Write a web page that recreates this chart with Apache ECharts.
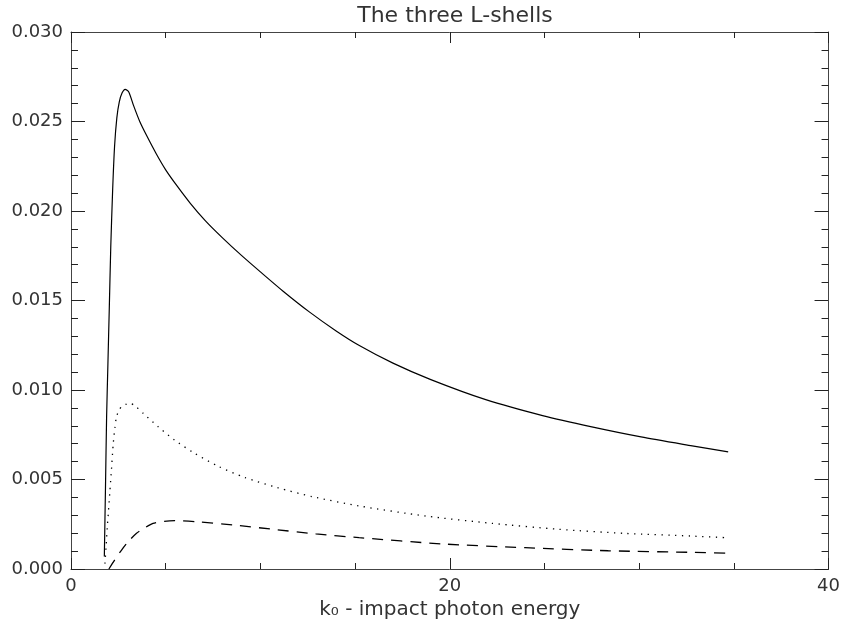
<!DOCTYPE html>
<html>
<head>
<meta charset="utf-8">
<script src="https://cdn.jsdelivr.net/npm/echarts@6/dist/echarts.min.js"></script>
<style>html,body{margin:0;padding:0;background:#fff}#c{width:843px;height:627px}</style>
</head>
<body>
<div id="c"></div>
<script>
const titleText = 'The three L-shells';
const xAxisName = 'k₀ - impact photon energy';

const solidX = [1.76, 1.82, 1.88, 1.95, 2.02, 2.1, 2.2, 2.3, 2.42, 2.55, 2.7, 2.86, 3.05, 3.3, 3.63, 4.0, 4.5, 5.0, 5.6, 6.3, 7.1, 8.0, 9.0, 10.0, 11.2, 12.6, 14.0, 15.2, 17.0, 19.0, 21.9, 24.9, 27.5, 30.1, 32.8, 34.7];
const solidY = [0.0007, 0.0045, 0.0085, 0.0115, 0.0145, 0.0180, 0.0212, 0.0236, 0.0252, 0.0261, 0.0266, 0.0268, 0.02665, 0.0259, 0.0250, 0.0242, 0.0232, 0.0223, 0.0214, 0.02043, 0.01945, 0.0185, 0.01752, 0.0166, 0.01552, 0.01435, 0.0133, 0.0125, 0.0115, 0.01058, 0.00946, 0.00857, 0.00794, 0.00738, 0.00688, 0.00654];

const dottedX = [1.79, 1.85, 1.92, 1.97, 2.05, 2.14, 2.23, 2.32, 2.4, 2.55, 2.7, 2.9, 3.1, 3.4, 3.81, 4.6, 5.47, 6.44, 7.75, 9.16, 10.91, 12.75, 15.21, 18.72, 22.23, 25.74, 29.25, 32.75, 34.6];
const dottedY = [0.0003, 0.0012, 0.0024, 0.0031, 0.0043, 0.0056, 0.0070, 0.0079, 0.0085, 0.0089, 0.0091, 0.0092, 0.00926, 0.0091, 0.0087, 0.00795, 0.0072, 0.00652, 0.00575, 0.00512, 0.00454, 0.00404, 0.00352, 0.00296, 0.00255, 0.00222, 0.00199, 0.00184, 0.00175];

const dashedX = [2.0, 2.3, 2.67, 3.0, 3.46, 3.9, 4.33, 4.9, 5.47, 6.61, 8.54, 10.65, 12.93, 15.21, 19.6, 23.98, 28.37, 32.75, 34.68];
const dashedY = [0.0, 0.0005, 0.00106, 0.0015, 0.002, 0.0023, 0.00255, 0.00266, 0.0027, 0.00264, 0.00246, 0.00222, 0.00196, 0.00175, 0.0014, 0.00119, 0.00102, 0.00093, 0.00088];

const xTicks = [0, 20, 40];
const yTicks = ['0.000', '0.005', '0.010', '0.015', '0.020', '0.025', '0.030'];

const zip = (xs, ys) => xs.map((x, i) => [x, ys[i]]);
const FONT = 'DejaVu Sans';
const TXT = '#333';
const axisLineStyle = { color: '#444', width: 1 };

function xAxisCfg(pos, showLabel) {
  return {
    type: 'value', position: pos, min: xTicks[0], max: xTicks[xTicks.length - 1], interval: xTicks[1] - xTicks[0],
    axisLine: { show: true, onZero: false, lineStyle: axisLineStyle },
    axisTick: { show: true, inside: true, length: 11, lineStyle: { color: '#222' } },
    minorTick: { show: true, splitNumber: 4, length: 6, lineStyle: { color: '#222' } },
    splitLine: { show: false },
    axisLabel: { show: showLabel, color: TXT, fontFamily: FONT, fontSize: 18, margin: 8 },
    name: showLabel ? xAxisName : '', nameLocation: 'middle', nameGap: 29,
    nameTextStyle: { color: TXT, fontFamily: FONT, fontSize: 20 }
  };
}
function yAxisCfg(pos, showLabel) {
  return {
    type: 'value', position: pos, min: 0, max: 0.03, interval: 0.005,
    axisLine: { show: true, onZero: false, lineStyle: axisLineStyle },
    axisTick: { show: true, inside: true, length: 14, lineStyle: { color: '#222' } },
    minorTick: { show: true, splitNumber: 5, length: 7, lineStyle: { color: '#222' } },
    splitLine: { show: false },
    axisLabel: { show: showLabel, color: TXT, fontFamily: FONT, fontSize: 18, margin: 8,
      formatter: v => yTicks[Math.round(v / 0.005)] }
  };
}

const chart = echarts.init(document.getElementById('c'), null, { renderer: 'canvas' });
chart.setOption({
  animation: false,
  backgroundColor: '#fff',
  title: { text: titleText, left: 450, top: 0, textAlign: 'center',
    textStyle: { color: TXT, fontFamily: FONT, fontSize: 22, fontWeight: 'normal' } },
  grid: { left: 71, right: 12, top: 32, bottom: 58 },
  xAxis: [xAxisCfg('bottom', true), xAxisCfg('top', false)],
  yAxis: [yAxisCfg('left', true), yAxisCfg('right', false)],
  series: [
    { type: 'line', data: zip(solidX, solidY), showSymbol: false, smooth: 0.25,
      lineStyle: { color: '#000', width: 1.2 } },
    { type: 'line', data: zip(dottedX, dottedY), showSymbol: false, smooth: 0.25,
      lineStyle: { color: '#000', width: 1.3, type: [1.3, 5.5] } },
    { type: 'line', data: zip(dashedX, dashedY), showSymbol: false, smooth: 0.25,
      lineStyle: { color: '#000', width: 1.3, type: [11, 8] } }
  ]
});
</script>
</body>
</html>
